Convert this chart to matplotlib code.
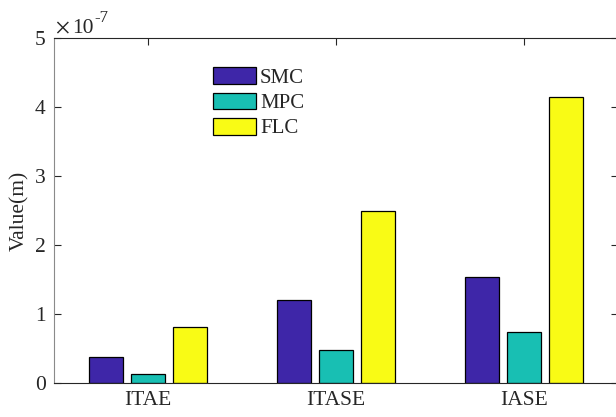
import matplotlib
matplotlib.use("Agg")
import matplotlib.pyplot as plt
import numpy as np

categories = ["ITAE", "ITASE", "IASE"]
series_names = ["SMC", "MPC", "FLC"]
smc = [0.377e-7, 1.20e-7, 1.54e-7]
mpc = [0.13e-7, 0.48e-7, 0.74e-7]
flc = [0.81e-7, 2.49e-7, 4.14e-7]
colors = ["#3E26A8", "#18BFB3", "#F9FB15"]

plt.rcParams['font.family'] = ['Liberation Serif', 'DejaVu Serif']
plt.rcParams['mathtext.fontset'] = 'stix'

fig = plt.figure(figsize=(6.16, 4.17), dpi=100)
W, H = 616, 417
left, right, top, bottom = 54, 618, 38, 383
ax = fig.add_axes([left / W, (H - bottom) / H, (right - left) / W, (bottom - top) / H])

x = np.arange(1, len(categories) + 1)
bw = 0.18
off = 0.223
for i, (vals, name, c) in enumerate(zip([smc, mpc, flc], series_names, colors)):
    ax.bar(x + (i - 1) * off, vals, width=bw, color=c, edgecolor='black', linewidth=0.9, label=name, zorder=2)

ax.set_xlim(0.5, 3.5)
ax.set_ylim(0, 5e-7)
ax.set_xticks(x)
ax.set_xticklabels(categories)
ax.set_yticks(np.arange(0, 6) * 1e-7)
ax.set_yticklabels([str(v) for v in range(6)])
ax.tick_params(direction='in', length=5, width=0.8, labelsize=15.5, top=True, right=True,
               color='#262626', labelcolor='#262626', pad=6)
for s in ax.spines.values():
    s.set_color('#262626')
    s.set_linewidth(0.8)
ax.spines['left'].set_color('#8a8a8a')

ax.set_ylabel("Value(m)", fontsize=15.5, color='#262626', labelpad=4)

# exponent label (×10^-7)
fig.text(55 / W, (H - 33) / H, r"$\times$", fontsize=15.5, color='#262626', ha='left', va='baseline')
fig.text(72.5 / W, (H - 33) / H, "10", fontsize=15.5, color='#262626', ha='left', va='baseline')
fig.text(94.5 / W, (H - 22.5) / H, "-7", fontsize=12, color='#262626', ha='left', va='baseline')

leg = ax.legend(loc='upper left', bbox_to_anchor=(0.282, 0.915), frameon=False, fontsize=15,
                handlelength=2.05, handleheight=0.87, handletextpad=0.2, labelspacing=0.22, borderpad=0.0,
                borderaxespad=0.0)
for t in leg.get_texts():
    t.set_color('#262626')

fig.savefig("out.png", dpi=100)
